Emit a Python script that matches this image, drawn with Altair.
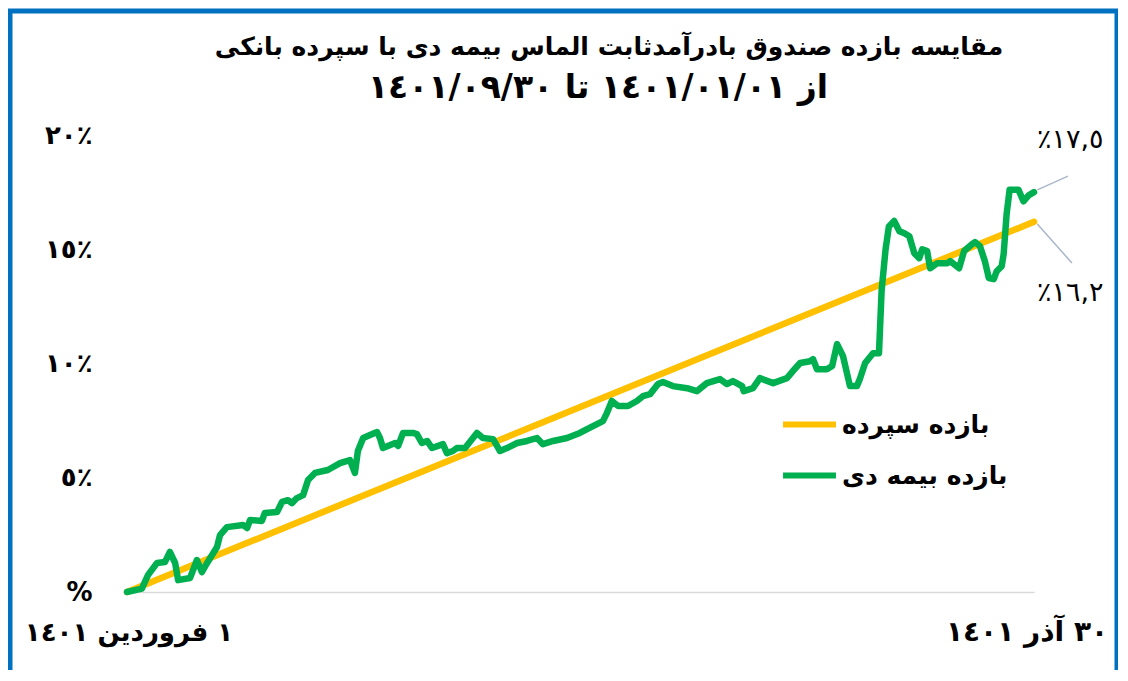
import altair as alt
import pandas as pd

# ---- data ----
title_lines = ["مقایسه بازده صندوق بادرآمدثابت الماس بیمه دی با سپرده بانکی",
               "از ١٤٠١/٠١/٠١ تا ١٤٠١/٠٩/٣٠"]
series_names = ["بازده سپرده", "بازده بیمه دی"]
series_colors = ["#FFC000", "#00B050"]

deposit_days = [0, 275]
deposit_vals = [0.0, 16.2]

dey_days = [0, 4.5, 6.4, 9.1, 11.5, 13.0, 14.6, 15.5, 19.1, 21.2, 22.7, 24.3, 27.3, 28.2, 30.3,
            35.2, 36.4, 37.3, 40.9, 41.8, 45.5, 47.0, 48.8, 50.0, 51.5, 53.4, 54.9, 57.0, 60.9,
            62.5, 64.6, 67.6, 69.1, 70.0, 71.6, 75.8, 76.7, 77.6, 81.3, 82.2, 83.7, 86.7, 87.9,
            89.4, 91.0, 92.5, 95.8, 97.0, 98.8, 100.0, 102.5, 106.1, 107.9, 111.0, 113.1, 115.2,
            118.3, 121.3, 124.3, 126.1, 129.2, 133.4, 137.3, 139.5, 142.5, 144.3, 145.5, 147.0,
            148.9, 151.9, 154.6, 156.4, 158.6, 161.0, 162.5, 165.5, 169.8, 172.8, 175.8, 179.8,
            181.9, 183.7, 186.5, 187.0, 189.8, 191.9, 195.9, 200.1, 201.9, 204.1, 207.1, 208.0,
            209.2, 212.2, 213.8, 215.3, 217.1, 219.2, 221.3, 222.2, 223.8, 226.2, 228.0, 228.8,
            230.0, 231.0, 232.6, 234.2, 235.7, 237.2, 238.7, 240.2, 241.1, 242.6, 243.5, 245.7,
            248.7, 249.6, 252.3, 253.8, 256.2, 257.1, 258.6, 260.1, 261.3, 262.8, 263.7, 265.2,
            265.8, 266.7, 267.6, 270.3, 271.8, 273.3, 275]
dey_vals = [0.0, 0.15, 0.75, 1.27, 1.31, 1.75, 1.27, 0.52, 0.61, 1.40, 0.87, 1.27, 1.97, 2.49, 2.84,
            2.93, 2.80, 3.15, 3.11, 3.46, 3.50, 3.94, 4.02, 3.89, 4.11, 4.24, 4.90, 5.21, 5.34,
            5.47, 5.64, 5.77, 5.21, 6.17, 6.74, 7.00, 6.74, 6.30, 6.52, 6.39, 6.96, 6.96, 6.91,
            6.52, 6.61, 6.30, 6.47, 6.08, 6.17, 6.30, 6.30, 6.96, 6.74, 6.69, 6.17, 6.30,
            6.52, 6.61, 6.74, 6.47, 6.61, 6.74, 6.96, 7.13, 7.35, 7.48, 7.83, 8.36,
            8.14, 8.14, 8.36, 8.57, 8.66, 9.10, 9.19, 9.01, 8.92, 8.79, 9.14, 9.32,
            9.10, 9.23, 9.01, 8.79, 8.92, 9.36, 9.14, 9.36, 9.67, 10.02, 10.10, 10.19,
            9.75, 9.75, 9.89, 10.85, 10.32, 9.01, 9.01, 9.32, 10.02, 10.45, 10.45, 13.2,
            15.0, 16.0, 16.24, 15.79, 15.70, 15.57, 14.83, 14.61, 15.00, 14.92, 14.17, 14.39,
            14.39, 14.48, 14.17, 14.92, 15.22, 15.31, 15.14, 14.48, 13.74, 13.69, 14.04, 14.26,
            14.79, 16.54, 17.6, 17.6, 17.1, 17.35, 17.5]

y_ticks = [0, 5, 10, 15, 20]
y_tick_labels = ["%", "٥٪", "١٠٪", "١٥٪", "٢٠٪"]

x_label_days = [0, 275]
x_labels = ["١ فروردين ١٤٠١", "٣٠ آذر ١٤٠١"]

end_labels = ["٪١٧,٥", "٪١٦,٢"]
end_label_days = [286, 286]
end_label_vals = [19.8, 13.1]
leader_x = [276, 276]
leader_y = [17.6, 16.1]
leader_x2 = [285.3, 286.5]
leader_y2 = [18.2, 14.4]

# ---- build tables ----
lines = pd.DataFrame({
    "day": deposit_days + dey_days,
    "val": deposit_vals + dey_vals,
    "series": [series_names[0]] * len(deposit_days) + [series_names[1]] * len(dey_days),
})
xlab = pd.DataFrame({"day": x_label_days, "label": x_labels})
ends = pd.DataFrame({"day": end_label_days, "val": end_label_vals, "label": end_labels})
leaders = pd.DataFrame({"x": leader_x, "y": leader_y, "x2": leader_x2, "y2": leader_y2})

FONT = "DejaVu Sans"
W, H = 907, 457

xscale = alt.Scale(domain=[0, 275], nice=False, zero=False)
yscale = alt.Scale(domain=[0, 20], nice=False)

label_map = "{" + ",".join(f"'{v}':'{l}'" for v, l in zip(y_ticks, y_tick_labels)) + "}"

color = alt.Color(
    "series:N",
    scale=alt.Scale(domain=series_names, range=series_colors),
    legend=alt.Legend(
        title=None, orient="none", legendX=653, legendY=260, direction="vertical",
        symbolType="stroke", symbolSize=2800, symbolStrokeWidth=6,
        labelFont=FONT, labelFontSize=25, labelFontWeight="bold", labelColor="#000000",
        labelLimit=400, rowPadding=8, labelOffset=3,
    ),
)

base = alt.Chart(lines).mark_line(strokeWidth=6.5, strokeCap="round", strokeJoin="round").encode(
    x=alt.X("day:Q", scale=xscale,
            axis=alt.Axis(title=None, labels=False, ticks=False, grid=False,
                          domain=True, domainColor="#d9d9d9", domainWidth=1.5)),
    y=alt.Y("val:Q", scale=yscale,
            axis=alt.Axis(title=None, values=y_ticks, grid=False, domain=False, ticks=False,
                          tickSize=0, labelPadding=35, labelFont=FONT, labelFontSize=26,
                          labelFontWeight="bold", labelColor="#000000",
                          labelExpr=f"{label_map}[toString(datum.value)]")),
    color=color,
)
yellow = base.transform_filter(alt.datum.series == series_names[0])
green = base.transform_filter(alt.datum.series == series_names[1])

xtext_l = alt.Chart(xlab.iloc[[0]]).mark_text(font=FONT, fontSize=26, fontWeight="bold",
                                              color="#000000", baseline="middle", align="center",
                                              dx=2).encode(
    x=alt.X("day:Q", scale=xscale), y=alt.value(H + 41), text="label:N")
xtext_r = alt.Chart(xlab.iloc[[1]]).mark_text(font=FONT, fontSize=28, fontWeight="bold",
                                              color="#000000", baseline="middle", align="center",
                                              dx=-7).encode(
    x=alt.X("day:Q", scale=xscale), y=alt.value(H + 41), text="label:N")

lead = alt.Chart(leaders).mark_rule(color="#aab7c9", strokeWidth=1.5).encode(
    x=alt.X("x:Q", scale=xscale), y=alt.Y("y:Q", scale=yscale),
    x2="x2:Q", y2="y2:Q")

endtext = alt.Chart(ends).mark_text(font=FONT, fontSize=27, color="#000000",
                                    baseline="middle", align="center").encode(
    x=alt.X("day:Q", scale=xscale), y=alt.Y("val:Q", scale=yscale), text="label:N")

title_df = pd.DataFrame({"line": title_lines, "row": [0, 1]})
title1 = alt.Chart(title_df.iloc[[0]]).mark_text(
    font=FONT, fontSize=25, fontWeight="bold", color="#000000",
    baseline="middle", align="center").encode(
    x=alt.value(482), y=alt.value(-88), text="line:N")
title2 = alt.Chart(title_df.iloc[[1]]).mark_text(
    font=FONT, fontSize=33, fontWeight="bold", color="#000000",
    baseline="middle", align="center").encode(
    x=alt.value(471), y=alt.value(-47), text="line:N")

frame = alt.Chart(pd.DataFrame({"a": [0]})).mark_rect(
    filled=False, stroke="#0070C0", strokeWidth=5).encode(
    x=alt.value(-117), x2=alt.value(990), y=alt.value(-124), y2=alt.value(H + 250))

chart = alt.layer(yellow, green, xtext_l, xtext_r, lead, endtext, title1, title2, frame).properties(
    width=W, height=H,
    padding={"left": 119, "top": 127, "right": 84, "bottom": 78},
    autosize=alt.AutoSizeParams(type="none"),
    background="#ffffff",
).configure_view(stroke=None)

chart.save("out.html", embed_options={"renderer": "svg", "actions": False})
